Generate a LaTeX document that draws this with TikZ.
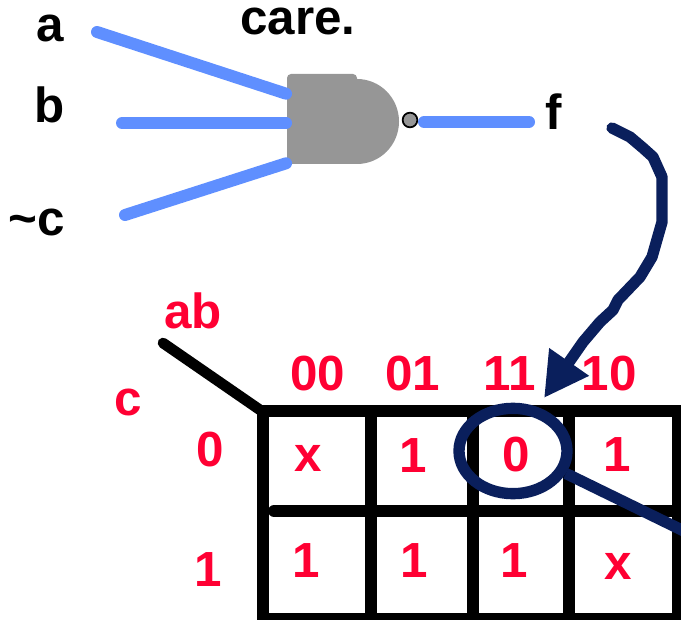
\documentclass[tikz,border=0pt]{standalone}
\usepackage{fontspec}
\setmainfont{Liberation Sans}
\usetikzlibrary{arrows.meta,shapes.geometric}
\definecolor{wireblue}{HTML}{5F8FFF}
\definecolor{gategray}{HTML}{969696}
\definecolor{loopnavy}{HTML}{0A1F5C}
\definecolor{mapred}{HTML}{FF0033}
\tikzset{
  blk/.style={font=\bfseries\fontsize{37}{37}\selectfont,text=black,inner sep=0pt},
  red/.style={font=\bfseries\fontsize{37}{37}\selectfont,text=mapred,inner sep=0pt},
  wire/.style={draw=wireblue,line width=9pt,line cap=round},
  grid/.style={draw=black,line width=9pt},
  navy/.style={draw=loopnavy,line width=8.5pt}
}
\begin{document}
\begin{tikzpicture}
    \def\x{0.75pt}
    \def\y{-0.75pt}
    \useasboundingbox (0*\x, 0*\y) rectangle (681*\x, 620*\y);
    % inputs
    \node (L_a) at (50*\x, 28*\y) [blk] {a};
    \node (L_b) at (50*\x, 105*\y) [blk] {b};
    \node (L_c) at (37*\x, 222*\y) [blk] {\textasciitilde c};
    \node (L_f) at (554*\x, 112*\y) [blk] {f};
    \node (L_care) at (298*\x, 21*\y) [blk] {care.};
    \coordinate (W_a) at (97*\x, 32*\y);
    \coordinate (W_b) at (122*\x, 123*\y);
    \coordinate (W_c) at (125*\x, 215*\y);
    \coordinate (W_o0) at (424*\x, 122*\y);
    \coordinate (W_o1) at (529*\x, 122*\y);
    % gate
    \fill [gategray,rounded corners=3pt] (287*\x, 164*\y) -- (287*\x, 74*\y) -- (357*\x, 74*\y) -- (357*\x, 90*\y) -- (357*\x, 164*\y) -- cycle;
    \fill [gategray] (350*\x, 79*\y) -- (357*\x, 79*\y) arc [start angle=90,end angle=-90,x radius=42*0.75pt,y radius=42.5*0.75pt] -- (350*\x, 164*\y) -- cycle;
    \node (G_i1) at (287*\x, 94*\y) [inner sep=0pt] {};
    \node (G_i2) at (287*\x, 123*\y) [inner sep=0pt] {};
    \node (G_i3) at (287*\x, 163*\y) [inner sep=0pt] {};
    \node (G_bub) at (410*\x, 120*\y) [circle,draw=black,fill=gategray,line width=1.3pt,minimum size=11pt,inner sep=0pt] {};
    \path (W_a) edge [wire] (G_i1);
    \path (W_b) edge [wire] (G_i2);
    \path (W_c) edge [wire] (G_i3);
    \path (W_o0) edge [wire] (W_o1);
    % map
    \node (M_ab) at (193*\x, 311*\y) [red] {ab};
    \node (M_c) at (128*\x, 402*\y) [red] {c};
    \node (H_00) at (318*\x, 374*\y) [red] {00};
    \node (H_01) at (413*\x, 374*\y) [red] {01};
    \node (H_11) at (510*\x, 374*\y) [red] {11};
    \node (H_10) at (609*\x, 374*\y) [red] {10};
    \node (R_0) at (210*\x, 450*\y) [red] {0};
    \node (R_1) at (208*\x, 570*\y) [red] {1};
    \node (A0_0) at (308*\x, 458*\y) [red] {x};
    \node (A0_1) at (413*\x, 456*\y) [red] {1};
    \node (A0_2) at (516*\x, 455*\y) [red] {0};
    \node (A0_3) at (617*\x, 455*\y) [red] {1};
    \node (A1_0) at (306*\x, 561*\y) [red] {1};
    \node (A1_1) at (414*\x, 561*\y) [red] {1};
    \node (A1_2) at (514*\x, 561*\y) [red] {1};
    \node (A1_3) at (618*\x, 566*\y) [red] {x};
    \coordinate (C_0) at (163*\x, 343*\y);
    \coordinate (C_1) at (263*\x, 412*\y);
    \path (C_0) edge [grid,line width=8pt,line cap=round] (C_1);
    \draw [grid] (263*\x, 411*\y) rectangle (678*\x, 619*\y);
    \draw [grid] (371*\x, 411*\y) -- (371*\x, 619*\y);
    \draw [grid] (473*\x, 411*\y) -- (473*\x, 619*\y);
    \draw [grid] (569*\x, 411*\y) -- (569*\x, 619*\y);
    \draw [grid,line cap=round] (274*\x, 511*\y) -- (678*\x, 511*\y);
    % loop and pointers
    \node (O_0) at (513*\x, 451*\y) [ellipse,navy,minimum width=81pt,minimum height=64pt,inner sep=0pt] {};
    \coordinate (O_1) at (690*\x, 534*\y);
    \path (O_0.-23) edge [navy] (O_1);
    \coordinate (F_0) at (612*\x, 128*\y);
    \coordinate (F_1) at (544*\x, 398*\y);
    \draw [navy,line cap=round,line join=round,-{Triangle[length=33pt,width=34pt]}] (F_0) -- (630*\x, 137*\y) -- (643*\x, 148*\y) -- (653*\x, 157*\y) -- (662*\x, 177*\y) -- (662*\x, 222*\y) -- (652*\x, 257*\y) -- (640*\x, 277*\y) -- (618*\x, 300*\y) -- (613*\x, 310*\y) -- (600*\x, 322*\y) -- (583*\x, 342*\y) -- (F_1);
  \end{tikzpicture}
\end{document}
